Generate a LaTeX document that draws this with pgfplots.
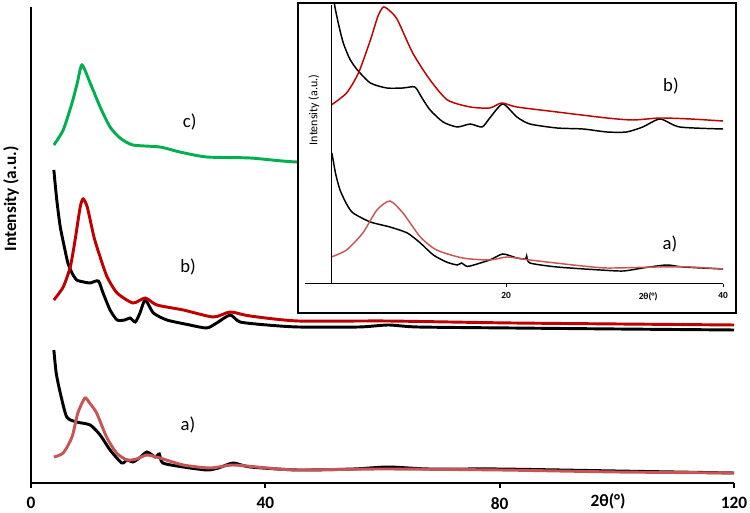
\documentclass[border=0pt]{standalone}
\usepackage{fontspec}
\setmainfont{Carlito}
\usepackage{pgfplots}
\pgfplotsset{compat=1.18}
\definecolor{cgreen}{RGB}{0,176,80}
\definecolor{cred}{RGB}{192,0,0}
\definecolor{cpink}{RGB}{200,85,85}
\begin{document}
\begin{tikzpicture}
\useasboundingbox (0,0) rectangle (562.5pt,384.75pt);
\begin{axis}[at={(23.25pt,22.5pt)}, anchor=south west, scale only axis,
  width=527.25pt, height=357pt, xmin=0, xmax=120, ymin=0, ymax=476,
  axis x line*=bottom, axis y line*=left, ytick=\empty, xtick={0,40,80,120},
  tick align=outside, major tick length=4pt,
  axis line style={line width=1.8pt},
  every tick/.style={line width=1.5pt,black},
  /pgf/number format/assume math mode=true,
  ticklabel style={font=\bfseries\fontsize{13}{13}\selectfont},
  xticklabel style={yshift=-3pt},
  clip mode=individual]
% a) black
\addplot[black, line width=2.2pt, smooth, tension=0.4] coordinates {
(3.9,133)(4.3,110)(5,90)(6.1,66)(7.8,61)(10.1,58)(11.8,48)(13.5,33)(15.5,20)(16.4,23)(17.4,21)(18.5,25)(19.8,31)(21.2,26)(21.9,29)(22.5,20)(26,16)(30,13)(32,15)(34.5,20)(37.4,16)(45.6,13)(55,14)(61,16)(68,14)(80,14)(100,12)(120,10)};
% a) pink
\addplot[cpink, line width=2.2pt, smooth, tension=0.4] coordinates {
(3.9,26)(5.5,30)(7,46)(8,70)(9.2,85)(10,80)(11.2,70)(12.9,46)(14.6,30)(16.4,23)(18,24)(19.8,28)(22,25)(26,18)(30.6,15)(34.5,18)(40.3,15)(45.6,13)(60,14)(80,13)(100,11)(120,10)};
% b) black
\addplot[black, line width=2.2pt, smooth, tension=0.4] coordinates {
(3.9,313)(4.4,283)(5,256)(5.8,233)(6.3,220)(7,210)(7.8,203)(9,201)(10.1,200)(11.5,202)(12.3,190)(13.5,173)(14.7,163)(16,163)(16.9,165)(17.8,161)(18.6,170)(19.5,183)(20.9,170)(23.2,163)(27.1,158)(30,155)(31.7,160)(34,168)(35.7,161)(40.3,158)(45.6,156)(56,156)(61,158)(66,156)(82,155)(100,154)(120,153)};
% b) red
\addplot[cred, line width=2.2pt, smooth, tension=0.4] coordinates {
(3.9,183)(5.5,196)(6.7,216)(7.5,242)(8.4,276)(8.9,284)(9.6,276)(10.75,246)(11.8,226)(13,206)(14.7,190)(17.4,180)(19.5,185)(21.5,178)(26,173)(31.1,166)(34,171)(37.4,167)(45.6,162)(60.8,162)(82.3,160)(120,158)};
% c) green
\addplot[cgreen, line width=2.2pt, smooth, tension=0.4] coordinates {
(3.9,338)(5.5,353)(7,380)(7.9,400)(8.7,418)(10.1,400)(11.8,376)(13.5,356)(15.2,345)(17.4,338)(22,336)(25.4,331)(30,326)(37.4,325)(45.4,321)(60,320)(80,319)(100,318)(120,318)};
\node[font=\fontsize{14}{14}\selectfont] at (axis cs:27.1,361) {c)};
\node[font=\fontsize{14}{14}\selectfont] at (axis cs:26.8,216) {b)};
\node[font=\fontsize{14}{14}\selectfont] at (axis cs:26.8,58) {a)};
\node[font=\bfseries\fontsize{13}{13}\selectfont, rotate=90] at (axis cs:-3.4,284) {Intensity (a.u.)};
\node[font=\bfseries\fontsize{13}{13}\selectfont] at (axis cs:98.5,-18) {2θ(°)};
\end{axis}
\filldraw[fill=white, draw=black, line width=1.5pt] (223.5pt,150pt) rectangle (552pt,382.5pt);
\begin{axis}[at={(228.98pt,171.75pt)}, anchor=south west, scale only axis,
  width=313.3pt, height=209.25pt, xmin=1.5, xmax=40, ymin=0, ymax=279,
  axis x line*=bottom, axis y line=none, xtick={20,40}, ytick=\empty,
  tick align=outside, major tick length=2.5pt,
  axis line style={line width=0.75pt},
  every tick/.style={line width=0.75pt,black},
  /pgf/number format/assume math mode=true,
  ticklabel style={font=\bfseries\fontsize{7}{7}\selectfont},
  clip mode=individual]
\addplot[black, line width=1.1pt, smooth, tension=0.4] coordinates {
(4.0,300)(4.2,279)(4.6,258)(5,241)(5.6,225)(6.3,214)(7.5,201)(9,196)(10.5,196)(11.6,197)(12.2,187)(13,174)(14.2,162)(15.5,157)(16.7,160)(17.8,157)(18.5,166)(19.7,180)(21,167)(22.2,160)(24.7,156)(27.1,155)(29.3,152)(31.1,152)(32.6,157)(34.2,165)(36,157)(40,155)};
\addplot[cred, line width=1.1pt, smooth, tension=0.4] coordinates {
(3.9,179)(5.3,191)(6.4,211)(7.5,244)(8.2,268)(8.7,277)(9.3,273)(10,264)(11.4,231)(13,204)(14.6,184)(16.7,177)(18.5,176)(19.6,181)(21,177)(24.7,172)(29.3,166)(31.7,164)(34.2,166)(37,165)(40,163)};
\addplot[black, line width=1.1pt, smooth, tension=0.4] coordinates {
(3.95,131)(4.3,110)(4.7,94)(5.3,80)(5.9,71)(7.5,62)(9.3,57)(10.9,51)(12.1,41)(13.3,29)(14.5,22)(15.5,19)(15.9,21)(16.3,18)(16.7,18)(18.5,24)(19.7,30)(21,26)(21.8,25)(21.9,28)(22.2,21)(24.7,17)(28.7,14)(30.8,13)(32.6,16)(34.8,19)(36.3,17)(40,15)};
\addplot[cpink, line width=1.1pt, smooth, tension=0.4] coordinates {
(3.9,27)(5.3,34)(6.8,51)(8.1,74)(9.3,83)(10.5,71)(12.1,47)(13.6,34)(16,26)(18.5,24)(20.1,27)(22.2,24)(26.2,19)(29.3,16)(33.9,17)(37,17)(40,15)};
\draw[line width=0.75pt] (axis cs:3.87,0) -- (axis cs:3.87,279);
\node[font=\fontsize{9}{9}\selectfont, rotate=90] at (axis cs:2.3,174) {Intensity (a.u.)};
\node[font=\fontsize{14}{14}\selectfont] at (axis cs:35.2,198) {b)};
\node[font=\fontsize{14}{14}\selectfont] at (axis cs:35.1,40) {a)};
\node[font=\bfseries\fontsize{7}{7}\selectfont] at (axis cs:33.1,-13) {2θ(°)};
\end{axis}
\end{tikzpicture}
\end{document}
